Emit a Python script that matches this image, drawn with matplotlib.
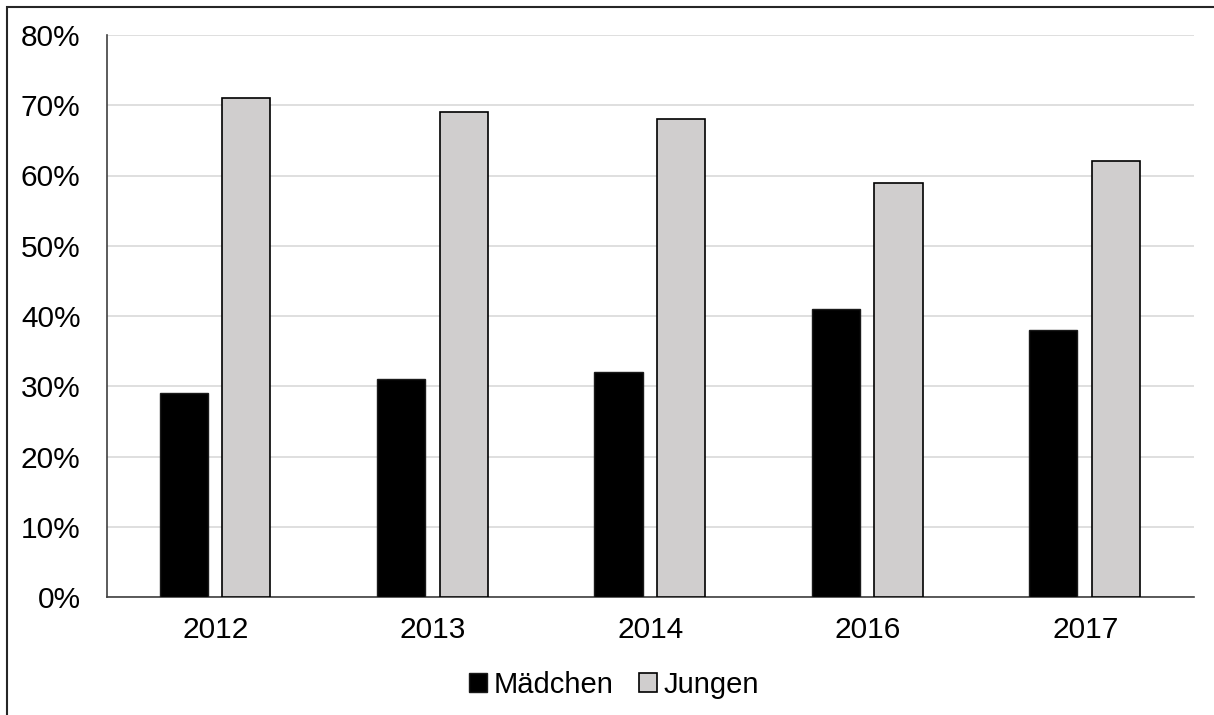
import matplotlib.pyplot as plt
import matplotlib.ticker as mticker
from matplotlib.patches import Rectangle
import numpy as np

plt.rcParams['font.family'] = ['Liberation Sans', 'DejaVu Sans']

years = ["2012", "2013", "2014", "2016", "2017"]
maedchen = [29, 31, 32, 41, 38]
jungen = [71, 69, 68, 59, 62]

W, H = 1214, 715
fig = plt.figure(figsize=(W / 100, H / 100), dpi=100)
ax = fig.add_axes([107 / W, 1 - 597 / H, (1194 - 107) / W, (597 - 35) / H])

x = np.arange(len(years))
width = 0.222
ax.bar(x - 0.147, maedchen, width, color="black", edgecolor="#1a1a1a",
       linewidth=1, label="Mädchen", zorder=3)
ax.bar(x + 0.141, jungen, width, color="#d0cece", edgecolor="black",
       linewidth=1.2, label="Jungen", zorder=3)

ax.set_xlim(-0.5, len(years) - 0.5)
ax.set_ylim(0, 80)
ax.set_yticks(range(0, 81, 10))
ax.yaxis.set_major_formatter(mticker.FuncFormatter(lambda v, p: f"{v:.0f}%"))
ax.set_xticks(x, labels=years)
ax.tick_params(axis="both", length=0, labelsize=21.5, colors="black")
ax.tick_params(axis="x", pad=14)
ax.tick_params(axis="y", pad=19)
ax.grid(axis="y", color="#d9d9d9", linewidth=1.2, zorder=0)
for side in ("top", "right"):
    ax.spines[side].set_visible(False)
for side in ("left", "bottom"):
    ax.spines[side].set_color("#404040")
    ax.spines[side].set_linewidth(1.2)

ax.legend(loc="center", bbox_to_anchor=(614 / W, 1 - 685 / H),
          bbox_transform=fig.transFigure, ncol=2, frameon=False,
          fontsize=21, handlelength=0.62, handleheight=0.62,
          handletextpad=0.2, columnspacing=0.9)

# outer frame around the chart
fig.patches.append(Rectangle((7 / W, -0.05), 1.1, 1 - 7 / H + 0.05,
                             transform=fig.transFigure, fill=False,
                             edgecolor="#262626", linewidth=1.5))

fig.savefig("out.png", dpi=100)
